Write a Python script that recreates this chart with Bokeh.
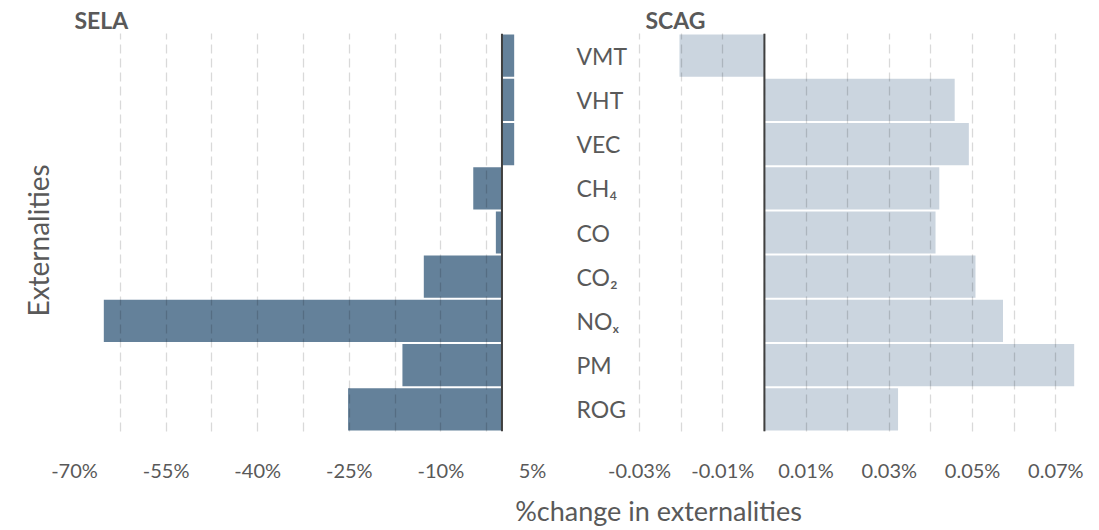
from bokeh.plotting import figure
from bokeh.models import (FactorRange, Range1d, FixedTicker, Span, ColumnDataSource, Title)
from bokeh.layouts import column, row
from bokeh.embed import file_html
from bokeh.resources import INLINE
from bokeh.core.properties import value

# ---------------- data ----------------
categories = ["VMT", "VHT", "VEC", "CH4", "CO", "CO2", "NOx", "PM", "ROG"]
category_labels = ["VMT", "VHT", "VEC", "CH₄", "CO", "CO₂", "NOₓ", "PM", "ROG"]
sela_change = [2.0, 2.0, 2.0, -4.7, -1.0, -12.8, -65.2, -16.3, -25.2]                       # % change
scag_change = [-0.0204, 0.0457, 0.0491, 0.0420, 0.0411, 0.0507, 0.0573, 0.0744, 0.0321]    # % change

sela_ticks = [-70, -55, -40, -25, -10, 5]
sela_tick_labels = ["-70%", "-55%", "-40%", "-25%", "-10%", "5%"]
sela_grid = [-70, -62.5, -55, -47.5, -40, -32.5, -25, -17.5, -10, -2.5, 5]

scag_ticks = [-0.03, -0.01, 0.01, 0.03, 0.05, 0.07]
scag_tick_labels = ["-0.03%", "-0.01%", "0.01%", "0.03%", "0.05%", "0.07%"]
scag_grid = [-0.03, -0.02, -0.01, 0.0, 0.01, 0.02, 0.03, 0.04, 0.05, 0.06, 0.07, 0.08]

panel_titles = ["SELA", "SCAG"]
y_title = "Externalities"
x_title = "%change in externalities"

# ---------------- layout / style ----------------
W, H = 1099, 530
ROW_H = 484
LEFT_W = 560
FONT = "Lato"
TXT = "#595959"
SELA_COLOR = "#64819A"
SCAG_COLOR = "#CBD5DF"
P2_FRAME = (570, 1097)      # page px of the right figure's frame
SCAG_PX = (639, 1097)       # page px covered by the SCAG scale


def px_range(lo, hi, px, frame):
    per_px = (hi - lo) / (px[1] - px[0])
    return Range1d(lo - (px[0] - frame[0]) * per_px, hi + (frame[1] - px[1]) * per_px)


src = ColumnDataSource(dict(cat=categories, label=category_labels,
                            sela=sela_change, scag=scag_change))
y_range = FactorRange(factors=list(reversed(categories)), range_padding=0)


def style(p, grid_ticks, ticks, labels, title, title_offset):
    p.outline_line_color = None
    p.yaxis.visible = False
    p.ygrid.visible = False
    p.xgrid.ticker = FixedTicker(ticks=grid_ticks)
    p.xgrid.grid_line_color = "black"
    p.xgrid.grid_line_alpha = 0.15
    p.xgrid.grid_line_width = 1.3
    p.xgrid.grid_line_dash = "9 5"
    p.xgrid.level = "guide"
    ax = p.xaxis[0]
    ax.ticker = FixedTicker(ticks=ticks)
    ax.major_label_overrides = {t: l for t, l in zip(ticks, labels)}
    ax.axis_line_color = None
    ax.major_tick_line_color = None
    ax.minor_tick_line_color = None
    ax.major_tick_out = 0
    ax.major_tick_in = 0
    ax.major_label_standoff = 26
    ax.major_label_text_font = FONT
    ax.major_label_text_font_size = "20px"
    ax.major_label_text_color = TXT
    p.title.text = title
    p.title.align = "left"
    p.title.offset = title_offset
    p.title.vertical_align = "bottom"
    p.title.standoff = 0
    p.title.text_font = FONT
    p.title.text_font_size = "23px"
    p.title.text_font_style = "bold"
    p.title.text_color = TXT
    p.add_layout(Span(location=0, dimension="height", line_color="#3F3F3F", line_width=2))


# ---------------- SELA panel ----------------
p1 = figure(width=LEFT_W, height=ROW_H, x_range=Range1d(-70, 5), y_range=y_range,
            toolbar_location=None, output_backend="svg",
            min_border_left=74, min_border_right=28, min_border_top=33, min_border_bottom=51)
p1.hbar(y="cat", left=0, right="sela", height=0.955, source=src,
        fill_color=SELA_COLOR, line_color=None)
style(p1, sela_grid, sela_ticks, sela_tick_labels, panel_titles[0], 0)
p1.add_layout(Title(text=y_title, align="left", offset=115, vertical_align="middle", standoff=38,
                    text_font=FONT, text_font_size="28px", text_font_style="normal",
                    text_color=TXT), "left")

# ---------------- SCAG panel (with category labels on its left) ----------------
p2 = figure(width=W - LEFT_W, height=ROW_H,
            x_range=px_range(-0.03, 0.08, SCAG_PX, P2_FRAME), y_range=y_range,
            toolbar_location=None, output_backend="svg",
            min_border_left=P2_FRAME[0] - LEFT_W, min_border_right=W - P2_FRAME[1],
            min_border_top=33, min_border_bottom=51)
p2.extra_x_ranges = {"px": Range1d(*P2_FRAME)}
p2.hbar(y="cat", left=0, right="scag", height=0.955, source=src,
        fill_color=SCAG_COLOR, line_color=None)
style(p2, scag_grid, scag_ticks, scag_tick_labels, panel_titles[1], 645 - P2_FRAME[0])
p2.text(x=576, y="cat", text="label", source=src, x_range_name="px",
        text_align="left", text_baseline="middle",
        text_font=value(FONT), text_font_size="23px", text_color=TXT)

# ---------------- common x-axis title (pixel-unit strip under the panels) ----------------
p3 = figure(width=W, height=H - ROW_H, x_range=Range1d(0, W), y_range=Range1d(H - ROW_H, 0),
            toolbar_location=None, output_backend="svg", min_border=0)
p3.axis.visible = False
p3.grid.visible = False
p3.outline_line_color = None
p3.text(x=[658], y=[26], text=[x_title], text_align="center", text_baseline="middle",
        text_font=value(FONT), text_font_size="27px", text_color=TXT)

layout = column(row(p1, p2), p3)
open("out.html", "w").write(file_html(layout, INLINE))
